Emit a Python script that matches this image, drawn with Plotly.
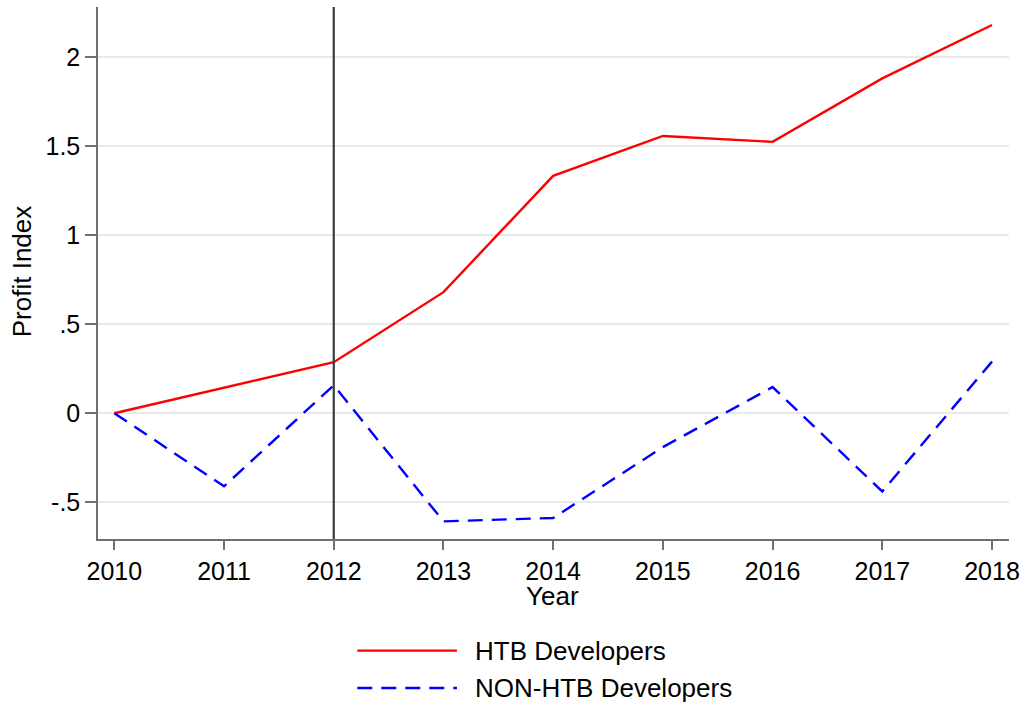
import plotly.graph_objects as go

# -------------------------
# Data
# -------------------------
years = [2010, 2011, 2012, 2013, 2014, 2015, 2016, 2017, 2018]
htb = [0.0, 0.145, 0.287, 0.68, 1.333, 1.557, 1.524, 1.88, 2.18]
non_htb = [0.0, -0.41, 0.157, -0.607, -0.588, -0.19, 0.147, -0.439, 0.29]
series_names = ["HTB Developers", "NON-HTB Developers"]
y_ticks = [-0.5, 0, 0.5, 1, 1.5, 2]
y_tick_labels = ["-.5", "0", ".5", "1", "1.5", "2"]
event_year = 2012

FONT = "Liberation Sans, Arial, sans-serif"
AXIS_GREY = "#6f6f6f"
GRID_GREY = "#e9e9e9"

# -------------------------
# Figure
# -------------------------
fig = go.Figure()

fig.add_trace(go.Scatter(
    x=years, y=htb, mode="lines", name=series_names[0],
    line=dict(color="#ff0000", width=2.4),
    showlegend=False
))
fig.add_trace(go.Scatter(
    x=years, y=non_htb, mode="lines", name=series_names[1],
    line=dict(color="#0000ff", width=2.4, dash="15px,9px"),
    showlegend=False
))

# vertical reference line at the policy year
fig.add_shape(type="line", xref="x", yref="paper",
              x0=event_year, x1=event_year, y0=0, y1=1,
              line=dict(color="#3c3c3c", width=2.2))

# -------------------------
# Legend drawn below the plot (long line samples like the original)
# -------------------------
legend_rows = [(-0.2098, "#ff0000", "solid"), (-0.280, "#0000ff", "15px,9px")]
for (ypos, col, dash), name in zip(legend_rows, series_names):
    fig.add_shape(type="line", xref="paper", yref="paper",
                  x0=0.2846, x1=0.394, y0=ypos, y1=ypos,
                  line=dict(color=col, width=2.4, dash=dash))
    fig.add_annotation(xref="paper", yref="paper", x=0.4117, y=ypos,
                       text=name, showarrow=False, xanchor="left",
                       yanchor="middle", font=dict(size=26, color="black"))

# axis titles
fig.add_annotation(xref="paper", yref="paper", x=0.499, y=-0.1065,
                   text="Year", showarrow=False, xanchor="center",
                   yanchor="middle", font=dict(size=26, color="black"))
fig.add_annotation(xref="paper", yref="paper", x=-0.0838, y=0.5027,
                   text="Profit Index", showarrow=False, textangle=-90,
                   xanchor="center", yanchor="middle",
                   font=dict(size=26, color="black"))

fig.update_layout(
    width=1027, height=708,
    margin=dict(l=98, r=18, t=7, b=169),
    paper_bgcolor="white", plot_bgcolor="white",
    font=dict(family=FONT, size=25, color="black"),
    showlegend=False,
    xaxis=dict(
        range=[2009.851, 2018.155],
        tickmode="array", tickvals=years, ticktext=[str(y) for y in years],
        showgrid=False, zeroline=False,
        showline=True, linecolor=AXIS_GREY, linewidth=1.5,
        ticks="outside", ticklen=9, tickwidth=1.5, tickcolor=AXIS_GREY,
        tickfont=dict(size=25, color="black"),
    ),
    yaxis=dict(
        range=[-0.706, 2.281],
        tickmode="array", tickvals=y_ticks, ticktext=y_tick_labels,
        showgrid=True, gridcolor=GRID_GREY, gridwidth=2, zeroline=False,
        showline=True, linecolor=AXIS_GREY, linewidth=1.5,
        ticks="outside", ticklen=11, tickwidth=1.5, tickcolor=AXIS_GREY,
        tickfont=dict(size=25, color="black"),
    ),
)

# remove the default page margin so the figure sits at the window's corner
fig.write_html("out.html", config={"displayModeBar": False},
               post_script="document.body.style.margin='0';")
